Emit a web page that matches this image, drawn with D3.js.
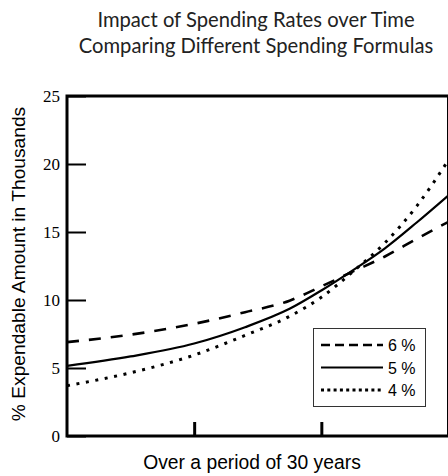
<!DOCTYPE html>
<html><head><meta charset="utf-8">
<script src="https://cdn.jsdelivr.net/npm/d3@7"></script>
<style>html,body{margin:0;padding:0;background:#fff;}svg{display:block;}
.ytick text{font-family:'Liberation Serif','DejaVu Serif','Times New Roman',serif !important;font-size:17px !important;}</style>
</head><body>
<svg id="c" width="448" height="476"></svg>
<script>
const years = [0, 5, 10, 14, 17.5, 20, 22.5, 25, 27.5, 30];
const rate6 = [6.9, 7.45, 8.25, 9.1, 9.95, 11.0, 12.1, 13.2, 14.5, 15.75];
const rate5 = [5.15, 5.85, 6.8, 8.0, 9.35, 10.7, 12.2, 13.8, 15.7, 17.7];
const rate4 = [3.7, 4.65, 5.95, 7.4, 8.8, 10.2, 12.1, 14.2, 16.9, 20.3];
const seriesNames = ["6 %", "5 %", "4 %"];
const yTicks = [0, 5, 10, 15, 20, 25];
const xTicks = [10, 20];
const titleLines = ["Impact of Spending Rates over Time", "Comparing Different Spending Formulas"];

const svg = d3.select("#c");
const L = 67, R = 448.5, T = 96, B = 436;
const x = d3.scaleLinear().domain([0, 30]).range([L, R]);
const y = d3.scaleLinear().domain([0, 25]).range([B, T]);

// title
svg.selectAll("text.title").data(titleLines).join("text")
  .attr("class", "title")
  .attr("x", 256).attr("y", (d, i) => 27 + i * 26)
  .attr("text-anchor", "middle")
  .style("font-family", "Lato, 'Open Sans', sans-serif")
  .style("font-size", "20.2px").attr("fill", "#222")
  .text(d => d);

// data lines
const styles = [
  {data: rate6, dash: "12,10", w: 2.6},
  {data: rate5, dash: null, w: 2.2},
  {data: rate4, dash: "3,6.6", w: 3}
];
const line = d3.line().x(d => x(d[0])).y(d => y(d[1])).curve(d3.curveMonotoneX);
svg.append("clipPath").attr("id", "pc").append("rect")
  .attr("x", L).attr("y", T).attr("width", R - L).attr("height", B - T);
styles.forEach(s => {
  svg.append("path")
    .attr("clip-path", "url(#pc)")
    .attr("d", line(years.map((t, i) => [t, s.data[i]])))
    .attr("fill", "none").attr("stroke", "#000")
    .attr("stroke-width", s.w)
    .attr("stroke-dasharray", s.dash);
});

// y axis
const yAxis = svg.append("g").attr("class", "ytick").attr("transform", `translate(${L},0)`)
  .call(d3.axisLeft(y).tickValues(yTicks).tickSizeInner(-19).tickSizeOuter(0).tickPadding(7).tickFormat(d3.format("d")));
yAxis.attr("font-family", "'Liberation Serif', 'DejaVu Serif', serif").attr("font-size", 17);
yAxis.select(".domain").remove();
yAxis.selectAll("line").attr("stroke-width", 2);
yAxis.selectAll("text").attr("fill", "#000");

// x axis ticks
const xAxis = svg.append("g").attr("transform", `translate(0,${B})`)
  .call(d3.axisBottom(x).tickValues(xTicks).tickSizeInner(-14).tickSizeOuter(0).tickFormat(""));
xAxis.select(".domain").remove();
xAxis.selectAll("line").attr("stroke-width", 3);

// frame
svg.append("rect").attr("x", L).attr("y", T).attr("width", R - L).attr("height", B - T)
  .attr("fill", "none").attr("stroke", "#000").attr("stroke-width", 3);

// axis labels
svg.append("text").attr("transform", "translate(25,264) rotate(-90)")
  .attr("text-anchor", "middle").style("font-family", "'Liberation Sans', Arial, sans-serif")
  .style("font-size", "19.2px").attr("fill", "#000").text("% Expendable Amount in Thousands");
svg.append("text").attr("x", 252).attr("y", 469)
  .attr("text-anchor", "middle").style("font-family", "'Liberation Sans', Arial, sans-serif")
  .style("font-size", "19.3px").attr("fill", "#000").text("Over a period of 30 years");

// legend
const lg = svg.append("g");
lg.append("rect").attr("x", 313.5).attr("y", 328.5).attr("width", 112).attr("height", 78)
  .attr("fill", "#fff").attr("stroke", "#333").attr("stroke-width", 1);
const legDash = ["9,5", null, "3,3.3"];
const legW = [2.6, 2.2, 3];
seriesNames.forEach((n, i) => {
  const yy = 345 + i * 22.5;
  lg.append("line").attr("x1", 321).attr("x2", 383).attr("y1", yy).attr("y2", yy)
    .attr("stroke", "#000").attr("stroke-width", legW[i]).attr("stroke-dasharray", legDash[i]);
  lg.append("text").attr("x", 388).attr("y", yy + 6)
    .style("font-family", "'Liberation Sans', Arial, sans-serif").style("font-size", "16px")
    .attr("fill", "#000").text(n);
});
</script>
</body></html>
